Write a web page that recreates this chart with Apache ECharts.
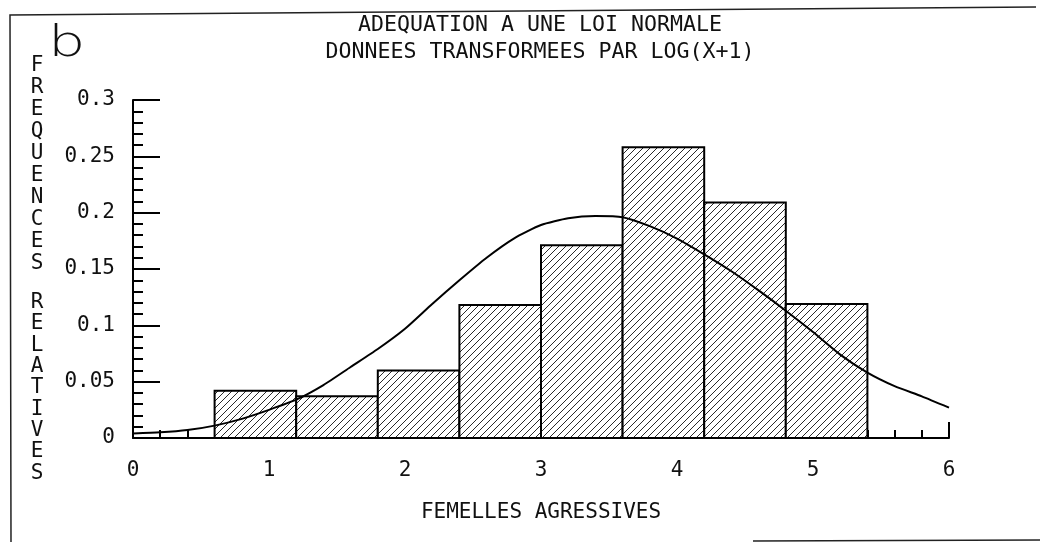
<!DOCTYPE html>
<html>
<head>
<meta charset="utf-8">
<title>Adequation a une loi normale</title>
<script src="https://cdn.jsdelivr.net/npm/echarts@6/dist/echarts.min.js"></script>
<style>
  html, body { margin: 0; padding: 0; background: #ffffff; }
  #chart { width: 1040px; height: 542px; }
</style>
</head>
<body>
<div id="chart"></div>
<script>
// Class limits of the histogram (log(x+1) scale)
const binEdges = [0.6, 1.2, 1.8, 2.4, 3.0, 3.6, 4.2, 4.8, 5.4];
// Observed relative frequency of each class
const observedFreq = [0.042, 0.037, 0.060, 0.118, 0.171, 0.258, 0.209, 0.119];
// Fitted normal curve: x positions and relative frequencies
const curveX = [0, 0.2, 0.4, 0.6, 0.8, 1.0, 1.2, 1.4, 1.6, 1.8, 2.0, 2.2, 2.4, 2.6, 2.8, 3.0,
                3.2, 3.4, 3.6, 3.8, 4.0, 4.2, 4.4, 4.6, 4.8, 5.0, 5.2, 5.4, 5.6, 5.8, 6.0];
const curveY = [0.004, 0.005, 0.007, 0.011, 0.017, 0.025, 0.034, 0.047, 0.063, 0.079, 0.097,
                0.119, 0.140, 0.160, 0.177, 0.189, 0.195, 0.197, 0.196, 0.188, 0.177, 0.163,
                0.148, 0.131, 0.113, 0.094, 0.074, 0.058, 0.046, 0.037, 0.027];
const xTicks = [0, 1, 2, 3, 4, 5, 6];
const yTicks = [0, 0.05, 0.1, 0.15, 0.2, 0.25, 0.3];

const titleLines = ['ADEQUATION A UNE LOI NORMALE', 'DONNEES TRANSFORMEES PAR LOG(X+1)'];
const xName = 'FEMELLES AGRESSIVES';
const yNameTop = 'FREQUENCES';
const yNameBottom = 'RELATIVES';

const FONT = '"DejaVu Sans Mono", "Liberation Mono", monospace';

// Diagonal hatching used to fill the bars
function hatchPattern() {
  const c = document.createElement('canvas');
  const s = 7;
  c.width = s; c.height = s;
  const g = c.getContext('2d');
  g.fillStyle = '#ffffff';
  g.fillRect(0, 0, s, s);
  g.strokeStyle = '#2a2a2a';
  g.lineWidth = 1;
  g.beginPath();
  g.moveTo(-1, s + 1); g.lineTo(s + 1, -1);
  g.moveTo(-1, 1); g.lineTo(1, -1);
  g.moveTo(s - 1, s + 1); g.lineTo(s + 1, s - 1);
  g.stroke();
  return { image: c, repeat: 'repeat' };
}
const hatch = hatchPattern();

const histData = observedFreq.map((v, i) => [binEdges[i], binEdges[i + 1], v]);
const curveData = curveX.map((x, i) => [x, curveY[i]]);

const chart = echarts.init(document.getElementById('chart'), null, { renderer: 'canvas' });

chart.setOption({
  backgroundColor: '#ffffff',
  animation: false,
  title: {
    text: titleLines.join('\n'),
    left: 535,
    top: 7,
    textAlign: 'center',
    textStyle: { fontFamily: FONT, fontSize: 21.6, fontWeight: 'normal', color: '#111', lineHeight: 27 }
  },
  grid: { left: 133, right: 91, top: 100, bottom: 104 },
  xAxis: {
    type: 'value',
    min: xTicks[0],
    max: xTicks[xTicks.length - 1],
    interval: 1,
    name: xName,
    nameLocation: 'middle',
    nameGap: 64,
    nameTextStyle: { fontFamily: FONT, fontSize: 21, color: '#111' },
    axisLine: { show: true, lineStyle: { color: '#000', width: 2 } },
    axisTick: { show: true, inside: true, length: 16, lineStyle: { color: '#000', width: 2 } },
    minorTick: { show: true, splitNumber: 5, length: 8, lineStyle: { color: '#000', width: 2 } },
    axisLabel: { fontFamily: FONT, fontSize: 21, color: '#111', margin: 22,
                 formatter: v => xTicks.indexOf(v) >= 0 ? String(v) : '' },
    splitLine: { show: false }
  },
  yAxis: {
    type: 'value',
    min: yTicks[0],
    max: yTicks[yTicks.length - 1],
    interval: 0.05,
    axisLine: { show: true, lineStyle: { color: '#000', width: 2 } },
    axisTick: { show: true, inside: true, length: 27, lineStyle: { color: '#000', width: 2 } },
    minorTick: { show: true, splitNumber: 5, length: 10, lineStyle: { color: '#000', width: 2 } },
    axisLabel: { fontFamily: FONT, fontSize: 21, color: '#111', margin: 18,
                 formatter: v => {
                   const t = yTicks.find(k => Math.abs(k - v) < 1e-9);
                   return t === undefined ? '' : String(t);
                 } },
    splitLine: { show: false }
  },
  series: [
    {
      type: 'custom',
      name: 'observed',
      z: 2,
      data: histData,
      encode: { x: [0, 1], y: 2 },
      renderItem: function (params, api) {
        const p0 = api.coord([api.value(0), 0]);
        const p1 = api.coord([api.value(1), api.value(2)]);
        return {
          type: 'rect',
          shape: { x: p0[0], y: p1[1], width: p1[0] - p0[0], height: p0[1] - p1[1] },
          style: { fill: hatch, stroke: '#000', lineWidth: 2 }
        };
      }
    },
    {
      type: 'line',
      name: 'normal',
      z: 3,
      data: curveData,
      showSymbol: false,
      symbol: 'none',
      smooth: 0.2,
      lineStyle: { color: '#000', width: 2 }
    }
  ],
  graphic: [
    // frame of the sheet
    { type: 'polyline', shape: { points: [[11, 542], [10, 15], [1036, 7]] },
      style: { stroke: '#222', lineWidth: 1.5, fill: null } },
    { type: 'line', shape: { x1: 753, y1: 541, x2: 1040, y2: 540 },
      style: { stroke: '#222', lineWidth: 1.5 } },
    // panel letter
    { type: 'text', x: 48, y: 24, scaleX: 1.4,
      style: { text: 'b', font: '300 42px "DejaVu Sans", sans-serif', fill: '#111',
               verticalAlign: 'top' } },
    // vertical axis title, one letter per line
    { type: 'text', x: 37, y: 55,
      style: { text: yNameTop.split('').join('\n'), fontFamily: FONT, fontSize: 21,
               lineHeight: 21.9, align: 'center', verticalAlign: 'top', fill: '#111' } },
    { type: 'text', x: 37, y: 292,
      style: { text: yNameBottom.split('').join('\n'), fontFamily: FONT, fontSize: 21,
               lineHeight: 21.3, align: 'center', verticalAlign: 'top', fill: '#111' } }
  ]
});
</script>
</body>
</html>
